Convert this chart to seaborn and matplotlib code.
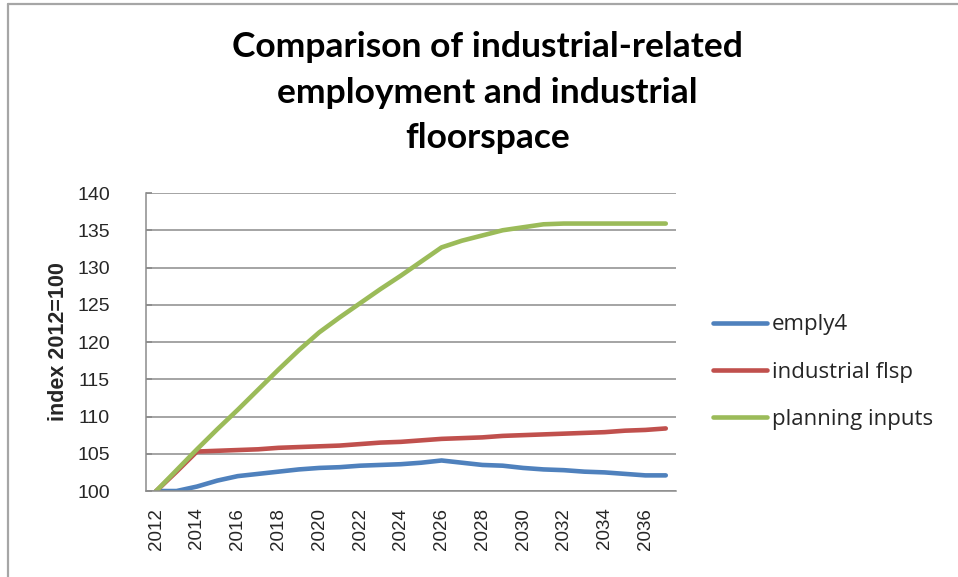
import pandas as pd
import seaborn as sns
import matplotlib.pyplot as plt
from matplotlib.lines import Line2D

OUTPUT_PATH = "out.png"

YEARS = list(range(2012, 2038))

EMPLY4 = [
    100.0, 100.0, 100.6, 101.4, 102.0, 102.3, 102.6, 102.9, 103.1, 103.2,
    103.4, 103.5, 103.6, 103.8, 104.1, 103.8, 103.5, 103.4, 103.1, 102.9,
    102.8, 102.6, 102.5, 102.3, 102.1, 102.1,
]
INDUSTRIAL_FLSP = [
    100.0, 102.6, 105.3, 105.4, 105.5, 105.6, 105.8, 105.9, 106.0, 106.1,
    106.3, 106.5, 106.6, 106.8, 107.0, 107.1, 107.2, 107.4, 107.5, 107.6,
    107.7, 107.8, 107.9, 108.1, 108.2, 108.4,
]
PLANNING_INPUTS = [
    100.0, 102.8, 105.6, 108.3, 110.9, 113.6, 116.3, 118.9, 121.3, 123.3,
    125.2, 127.1, 128.9, 130.8, 132.7, 133.6, 134.3, 135.0, 135.4, 135.8,
    135.9, 135.9, 135.9, 135.9, 135.9, 135.9,
]

SERIES_NAMES = ["emply4", "industrial flsp", "planning inputs"]
SERIES_COLORS = ["#4F81BD", "#C0504D", "#9BBB59"]
Y_TICKS = [100, 105, 110, 115, 120, 125, 130, 135, 140]
X_TICKS = list(range(2012, 2037, 2))

TITLE = "Comparison of industrial-related\nemployment and industrial\nfloorspace"
Y_LABEL = "index 2012=100"


def main() -> None:
    df = pd.DataFrame(
        {
            "Year": YEARS * 3,
            "Value": EMPLY4 + INDUSTRIAL_FLSP + PLANNING_INPUTS,
            "Series": [SERIES_NAMES[0]] * len(YEARS)
            + [SERIES_NAMES[1]] * len(YEARS)
            + [SERIES_NAMES[2]] * len(YEARS),
        }
    )

    sns.set_theme(style="white")
    plt.rcParams["font.family"] = ["Liberation Sans", "DejaVu Sans"]

    fig = plt.figure(figsize=(9.58, 5.77), dpi=100)
    ax = fig.add_axes([0.1524, 0.149, 0.5532, 0.5165])

    sns.lineplot(
        data=df,
        x="Year",
        y="Value",
        hue="Series",
        hue_order=SERIES_NAMES,
        palette=SERIES_COLORS,
        linewidth=3.3,
        ax=ax,
        legend=False,
    )

    grid_color = "#8c8c8c"
    ax.set_xlim(2011.5, 2037.5)
    ax.set_ylim(100, 140)
    ax.set_yticks(Y_TICKS)
    ax.set_xticks(X_TICKS)
    ax.set_xticklabels([str(y) for y in X_TICKS], rotation=90)
    ax.yaxis.grid(True, color=grid_color, linewidth=1.1)
    ax.set_axisbelow(True)
    for side in ["top", "right"]:
        ax.spines[side].set_visible(False)
    for side in ["left", "bottom"]:
        ax.spines[side].set_color(grid_color)
        ax.spines[side].set_linewidth(1.1)
    ax.tick_params(axis="y", direction="in", length=4, color=grid_color,
                   labelsize=14, pad=26, left=True)
    ax.tick_params(axis="x", length=0, labelsize=13.5, pad=12)
    ax.set_xlabel("")
    ax.set_ylabel(Y_LABEL, fontsize=15.5, fontweight="bold", labelpad=6)

    fig.text(0.509, 0.839, TITLE, ha="center", va="center", fontsize=25.5,
             fontweight="bold", family=["Lato", "DejaVu Sans"],
             linespacing=1.52, color="black")

    handles = [Line2D([0], [0], color=c, linewidth=3.3) for c in SERIES_COLORS]
    fig.legend(
        handles,
        SERIES_NAMES,
        loc="center left",
        bbox_to_anchor=(0.744, 0.355),
        frameon=False,
        prop={"family": ["Open Sans", "DejaVu Sans"], "size": 16},
        handlelength=2.45,
        handletextpad=0.22,
        labelspacing=1.18,
        borderpad=0,
        borderaxespad=0,
    )

    # outer chart border (left and top edges visible in the reference)
    border_color = "#a6a6a6"
    fig.add_artist(Line2D([0.008, 0.008], [0.0, 0.993], color=border_color,
                          linewidth=1.6, transform=fig.transFigure))
    fig.add_artist(Line2D([0.008, 1.0], [0.993, 0.993], color=border_color,
                          linewidth=1.6, transform=fig.transFigure))

    fig.savefig(OUTPUT_PATH, dpi=100)
    plt.close(fig)


if __name__ == "__main__":
    main()
